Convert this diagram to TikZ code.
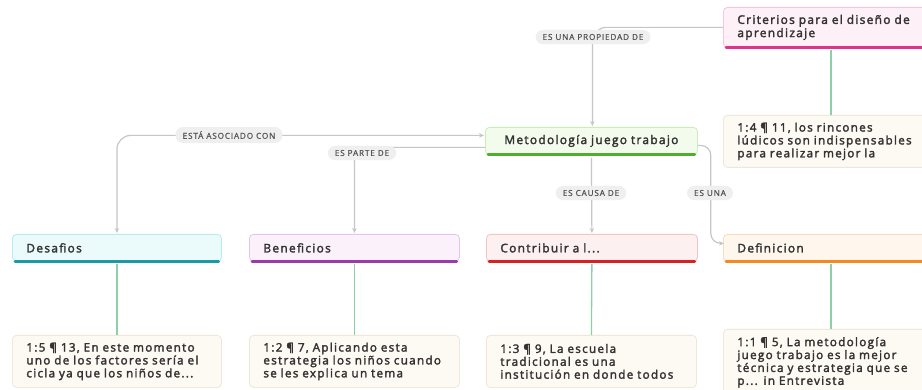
\documentclass[tikz,border=0pt]{standalone}
\usepackage{fontspec}
\setmainfont{Open Sans}
\newfontfamily\semib{Open Sans}[FakeBold=2.4, LetterSpace=11]
\newfontfamily\lblfont{Open Sans}[LetterSpace=10, FakeBold=0.8]
\usetikzlibrary{arrows.meta}
\definecolor{txt}{HTML}{333333}
\definecolor{lbltxt}{HTML}{555555}
\definecolor{lblfill}{HTML}{EFEFEF}
\definecolor{conn}{HTML}{C6C6C6}
\definecolor{grn}{HTML}{8DCFA6}
\definecolor{qfill}{HTML}{FDFAF4}
\definecolor{qdraw}{HTML}{EFE7DA}
\definecolor{pkfill}{HTML}{FDF0F6}\definecolor{pkdraw}{HTML}{F5C6DC}\definecolor{pkbar}{HTML}{E0338C}
\definecolor{gnfill}{HTML}{F3FBEC}\definecolor{gndraw}{HTML}{CDEDB6}\definecolor{gnbar}{HTML}{4DAF2E}
\definecolor{cyfill}{HTML}{EBFBFC}\definecolor{cydraw}{HTML}{B4ECF0}\definecolor{cybar}{HTML}{1A9AA2}
\definecolor{pufill}{HTML}{FAF1FB}\definecolor{pudraw}{HTML}{E4C6EA}\definecolor{pubar}{HTML}{9B3AAC}
\definecolor{rdfill}{HTML}{FDF0F0}\definecolor{rddraw}{HTML}{F5C4C4}\definecolor{rdbar}{HTML}{D62222}
\definecolor{orfill}{HTML}{FFF6EE}\definecolor{ordraw}{HTML}{FBDCBE}\definecolor{orbar}{HTML}{F5881F}
\tikzset{
  cbox/.style={rounded corners=4pt, line width=0.8pt, inner xsep=14pt, inner ysep=0pt,
    align=left, anchor=north west, font=\semib\fontsize{11.9}{13.2}\selectfont, text=txt},
  qbox/.style={rounded corners=4pt, line width=0.8pt, fill=qfill, draw=qdraw, inner xsep=14pt, inner ysep=0pt,
    align=left, anchor=north west, font=\semib\fontsize{11.7}{12.9}\selectfont, text=txt},
  bar/.style={line width=2.6pt, line cap=round},
  gline/.style={draw=grn, line width=1.3pt},
  connline/.style={draw=conn, line width=1.2pt, rounded corners=14pt},
  tip/.style={-{Stealth[length=5pt,width=4.5pt]}},
  lbl/.style={fill=lblfill, rounded corners=7pt, inner xsep=7pt, inner ysep=4pt,
    font=\lblfont\fontsize{8.2}{9}\selectfont, text=lbltxt},
}
\begin{document}
\begin{tikzpicture}[x=1pt,y=-1pt]
\useasboundingbox (0,0) rectangle (922,390);
\clip (0,0) rectangle (922,390);
\fill[white] (0,0) rectangle (922,390);

% concept boxes
\node[cbox, fill=pkfill, draw=pkdraw, minimum width=215pt, minimum height=40pt, text width=187pt] (crit) at (723,7) {Criterios para el diseño de\\aprendizaje};
\node[cbox, fill=gnfill, draw=gndraw, minimum width=212pt, minimum height=27pt, text width=184pt, align=center] (met) at (485,127) {Metodología juego trabajo};
\node[cbox, fill=cyfill, draw=cydraw, minimum width=209pt, minimum height=27pt, text width=181pt] (des) at (12,234) {Desafios};
\node[cbox, fill=pufill, draw=pudraw, minimum width=210pt, minimum height=27pt, text width=182pt] (ben) at (249,234) {Beneficios};
\node[cbox, fill=rdfill, draw=rddraw, minimum width=211pt, minimum height=27pt, text width=183pt] (con) at (486,234) {Contribuir a l...};
\node[cbox, fill=orfill, draw=ordraw, minimum width=215pt, minimum height=27pt, text width=187pt] (def) at (723,234) {Definicion};

% bottom colour bars
\draw[bar, pkbar] ([xshift=3pt]crit.south west) -- ([xshift=-3pt]crit.south east);
\draw[bar, gnbar] ([xshift=3pt]met.south west) -- ([xshift=-3pt]met.south east);
\draw[bar, cybar] ([xshift=3pt]des.south west) -- ([xshift=-3pt]des.south east);
\draw[bar, pubar] ([xshift=3pt]ben.south west) -- ([xshift=-3pt]ben.south east);
\draw[bar, rdbar] ([xshift=3pt]con.south west) -- ([xshift=-3pt]con.south east);
\draw[bar, orbar] ([xshift=3pt]def.south west) -- ([xshift=-3pt]def.south east);

% quote boxes
\node[qbox, minimum width=215pt, minimum height=52pt, text width=187pt] (q4) at (723,115) {1:4 ¶ 11, los rincones\\lúdicos son indispensables\\para realizar mejor la};
\node[qbox, minimum width=209pt, minimum height=52pt, text width=181pt] (q5) at (12,335) {1:5 ¶ 13, En este momento\\uno de los factores sería el\\cicla ya que los niños de...};
\node[qbox, minimum width=210pt, minimum height=52pt, text width=182pt] (q2) at (249,335) {1:2 ¶ 7, Aplicando esta\\estrategia los niños cuando\\se les explica un tema};
\node[qbox, minimum width=210pt, minimum height=52pt, text width=182pt] (q3) at (486,335) {1:3 ¶ 9, La escuela\\tradicional es una\\institución en donde todos};
\node[qbox, minimum width=215pt, minimum height=66pt, text width=187pt] (q1) at (723,329) {1:1 ¶ 5, La metodología\\juego trabajo es la mejor\\técnica y estrategia que se\\p... in Entrevista};

% green links
\draw[gline] ([yshift=-2pt]crit.south) -- (q4.north);
\draw[gline] ([yshift=-2pt]des.south) -- (q5.north);
\draw[gline] ([yshift=-2pt]ben.south) -- (q2.north);
\draw[gline] ([yshift=-2pt]con.south) -- (q3.north);
\draw[gline] ([yshift=-2pt]def.south) -- (q1.north);

% relation connectors
\draw[connline, tip] (crit.west) -| ([xshift=1pt,yshift=1pt]met.north);
\draw[connline, {Stealth[length=5pt,width=4.5pt]}-{Stealth[length=5pt,width=4.5pt]}] ([yshift=1pt]des.north) |- ([xshift=-1pt,yshift=5.5pt]met.west);
\draw[connline, tip] ([yshift=-6.5pt]met.west) -| ([yshift=1pt]ben.north);
\draw[connline, tip] ([yshift=-3pt]met.south) -- ([yshift=1pt]con.north);
\draw[connline, tip, rounded corners=10pt] ([yshift=-4.5pt]met.east) -- ++(13,0) |- ([xshift=1pt,yshift=4.5pt]def.west);

% relation labels
\node[lbl] (l1) at (593,37) {ES UNA PROPIEDAD DE};
\node[lbl] (l2) at (229,135) {ESTÁ ASOCIADO CON};
\node[lbl] (l3) at (362,153) {ES PARTE DE};
\node[lbl] (l4) at (591,193) {ES CAUSA DE};
\node[lbl] (l5) at (710,193) {ES UNA};
\end{tikzpicture}
\end{document}
